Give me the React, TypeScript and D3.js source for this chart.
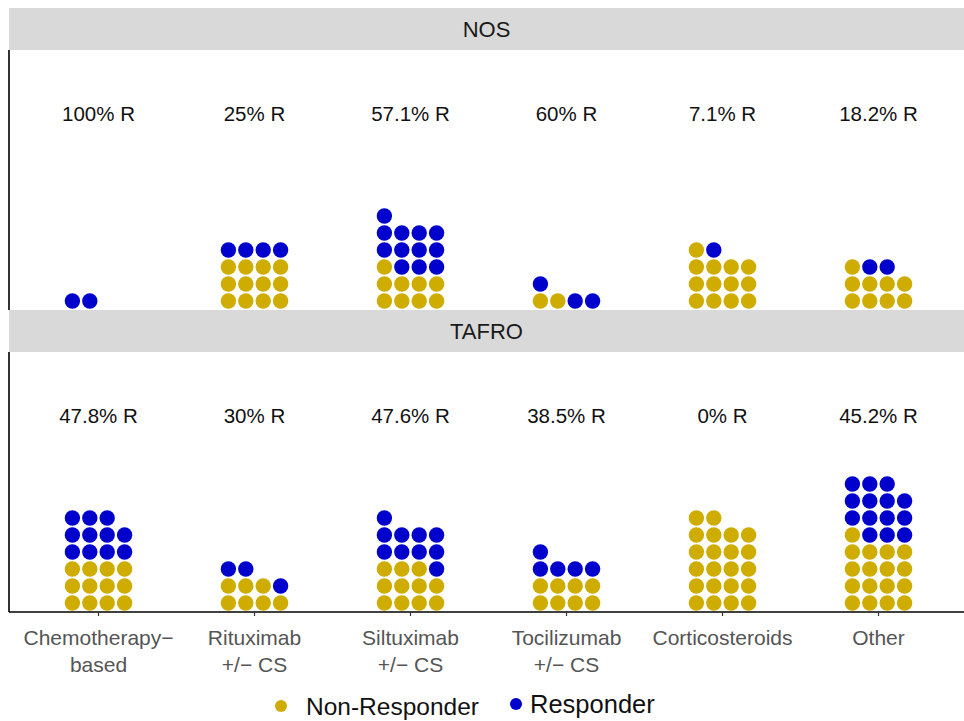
import React from "react";
import * as d3 from "d3";

const categories = ["Chemotherapy-based", "Rituximab +/- CS", "Siltuximab +/- CS", "Tocilizumab +/- CS", "Corticosteroids", "Other"];
const categoryLabels = [["Chemotherapy\u2212", "based"], ["Rituximab", "+/\u2212 CS"], ["Siltuximab", "+/\u2212 CS"], ["Tocilizumab", "+/\u2212 CS"], ["Corticosteroids"], ["Other"]];
const panels = ["NOS", "TAFRO"];
const nosNonResponders = [0, 12, 9, 2, 13, 9];
const nosResponders = [2, 4, 12, 3, 1, 2];
const tafroNonResponders = [12, 7, 11, 8, 22, 17];
const tafroResponders = [11, 3, 10, 5, 0, 14];
const legendLabels = ["Non-Responder", "Responder"];

const GOLD = "#CEAC00";
const BLUE = "#0000CD";
const W = 964, H = 721;
const COLS = 4;
const DOT_STEP_X = 17.4;
const DOT_STEP_Y = 17;

function buildDots(non: number[], resp: number[]) {
  const out: { cat: number; idx: number; resp: boolean }[] = [];
  categories.forEach((_, ci) => {
    const total = non[ci] + resp[ci];
    for (let k = 0; k < total; k++) out.push({ cat: ci, idx: k, resp: k >= non[ci] });
  });
  return out;
}

export default function App() {
  const left = 9, right = W;
  const x = d3.scalePoint<string>().domain(categories).range([98.5, 878.5]);
  const panelBoxes = [
    { stripTop: 8, top: 50, bottom: 310 },
    { stripTop: 310, top: 352, bottom: 612 },
  ];
  const data = [
    { non: nosNonResponders, resp: nosResponders },
    { non: tafroNonResponders, resp: tafroResponders },
  ];
  const labelRow = 11.05;

  return (
    <svg width={W} height={H} style={{ position: "absolute", left: 0, top: 0, background: "#fff" }} fontFamily="'Liberation Sans', Arial, sans-serif">
      {panels.map((p, pi) => {
        const box = panelBoxes[pi];
        const y = d3.scaleLinear().domain([-0.53, (box.bottom - box.top) / DOT_STEP_Y - 0.53]).range([box.bottom, box.top]);
        const dots = buildDots(data[pi].non, data[pi].resp);
        const colOffset = d3.scaleLinear().domain([0, COLS - 1]).range([-1.5 * DOT_STEP_X, 1.5 * DOT_STEP_X]);
        return (
          <g key={p}>
            <rect x={left} y={box.stripTop} width={right - left} height={box.top - box.stripTop} fill="#D9D9D9" />
            <text x={(left + right) / 2} y={(box.stripTop + box.top) / 2} dy="0.36em" textAnchor="middle" fontSize={22} fill="#1a1a1a">{p}</text>
            <line x1={left} x2={left} y1={box.top} y2={box.bottom} stroke="#000" strokeWidth={1.6} />
            {categories.map((c, ci) => {
              const n = data[pi].non[ci], r = data[pi].resp[ci];
              const pctTxt = String(Math.round((1000 * r) / (n + r)) / 10);
              return (
                <text key={c} x={x(c)} y={y(labelRow)} dy="0.36em" textAnchor="middle" fontSize={20.5} fill="#111">{pctTxt}% R</text>
              );
            })}
            {dots.map((d, i) => {
              const col = d.idx % COLS, row = Math.floor(d.idx / COLS);
              return (
                <circle key={i} cx={(x(categories[d.cat]) as number) + colOffset(col)} cy={y(row)} r={7.7} fill={d.resp ? BLUE : GOLD} />
              );
            })}
          </g>
        );
      })}
      <line x1={left} x2={right} y1={612} y2={612} stroke="#000" strokeWidth={1.6} />
      {categories.map((c, ci) => (
        <g key={c} transform={`translate(${x(c)},612)`}>
          <line y1={0} y2={4} stroke="#333" strokeWidth={1.2} />
          {categoryLabels[ci].map((l, li) => (
            <text key={li} y={25 + li * 27} dy="0.36em" textAnchor="middle" fontSize={21} fill="#555">{l}</text>
          ))}
        </g>
      ))}
      <g>
        <circle cx={281} cy={706} r={6} fill={GOLD} />
        <text x={306} y={706} dy="0.36em" fontSize={24.5} fill="#111">{legendLabels[0]}</text>
        <circle cx={516} cy={704} r={6} fill={BLUE} />
        <text x={530} y={704} dy="0.36em" fontSize={25.5} fill="#111">{legendLabels[1]}</text>
      </g>
    </svg>
  );
}
